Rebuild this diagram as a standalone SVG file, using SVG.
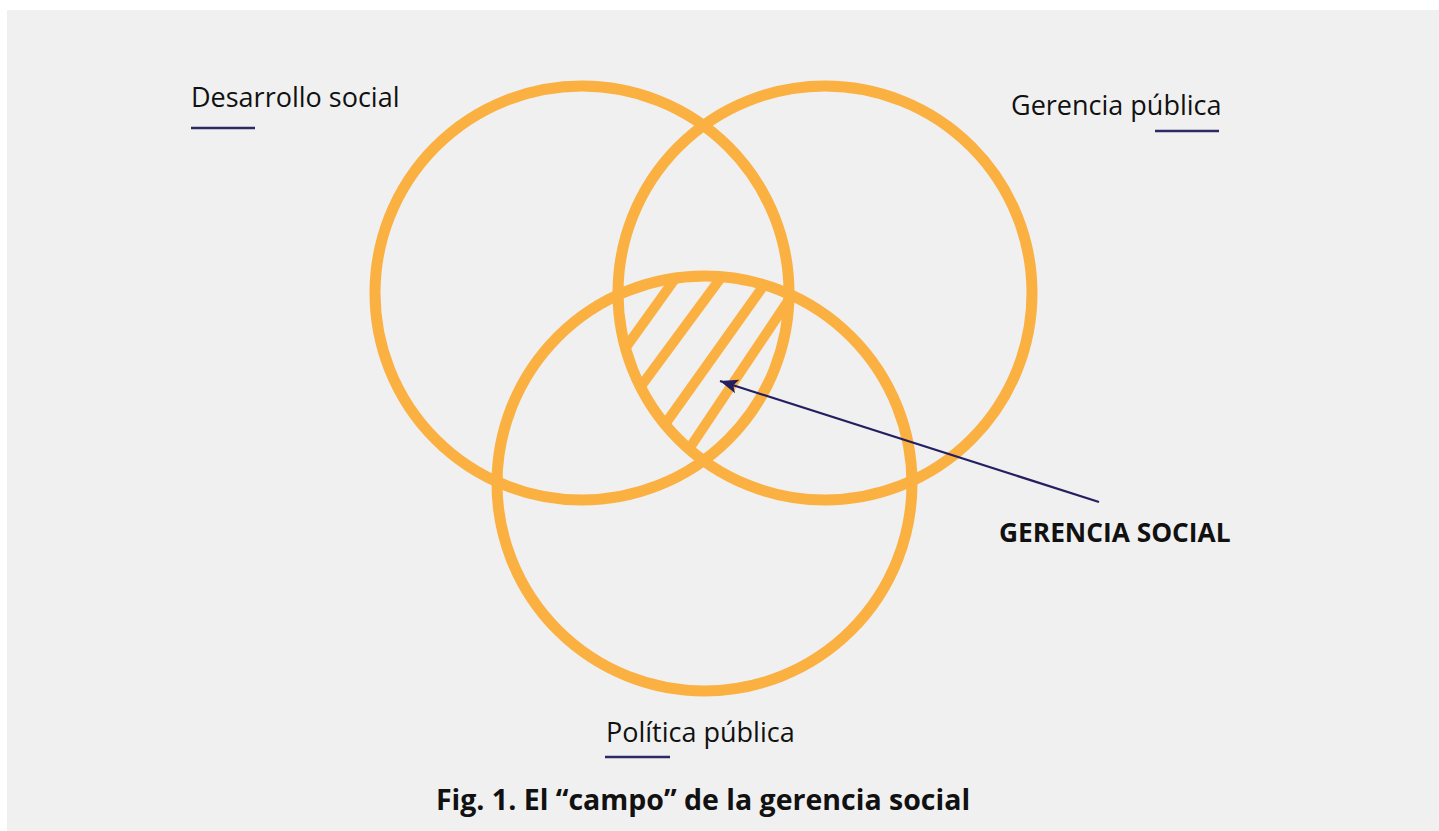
<svg xmlns="http://www.w3.org/2000/svg" width="1439" height="831" viewBox="0 0 1439 831">
<style>
.ring{fill:none;stroke:#fbb042;stroke-width:11}
.hatch{stroke:#fbb042;stroke-width:10;stroke-linecap:butt}
.lbl{font-family:"Open Sans","Noto Sans","Liberation Sans",sans-serif;font-size:27px;fill:#111}
.bold{font-family:"Open Sans","Noto Sans","Liberation Sans",sans-serif;font-weight:bold;fill:#111}
.ul{stroke:#2b2966;stroke-width:2.5}
.conn{stroke:#241f60;stroke-width:2.2;fill:none}
</style>
<defs>
<clipPath id="cA"><circle cx="582" cy="293" r="207"/></clipPath>
<clipPath id="cB"><circle cx="825" cy="293" r="207"/></clipPath>
<clipPath id="cC"><circle cx="704.5" cy="483.5" r="207.5"/></clipPath>
<marker id="arr" markerUnits="userSpaceOnUse" markerWidth="22" markerHeight="18" refX="18" refY="9" orient="auto" overflow="visible">
<path d="M18,9 L0,2 L4,9 L0,16 z" fill="#241f60"/>
</marker>
</defs>
<rect x="7" y="10" width="1432" height="821" fill="#f0f0f0"/>
<g id="hatching" clip-path="url(#cA)">
<g clip-path="url(#cB)">
<g clip-path="url(#cC)">
<line class="hatch" x1="689.5" y1="258.6" x2="611.5" y2="367.4"/>
<line class="hatch" x1="734.8" y1="258.9" x2="626.2" y2="406.2"/>
<line class="hatch" x1="779.4" y1="263.5" x2="650.6" y2="444.5"/>
<line class="hatch" x1="798.7" y1="285" x2="676.3" y2="468"/>
</g>
</g>
</g>
<g id="desarrollo-social">
<circle class="ring" cx="582" cy="293" r="207"/>
<text class="lbl" x="191" y="107">Desarrollo social</text>
<line class="ul" x1="191" y1="128" x2="255" y2="128"/>
</g>
<g id="gerencia-publica">
<circle class="ring" cx="825" cy="293" r="207"/>
<text class="lbl" x="1011" y="115">Gerencia pública</text>
<line class="ul" x1="1155" y1="131" x2="1219" y2="131"/>
</g>
<g id="politica-publica">
<circle class="ring" cx="704.5" cy="483.5" r="207.5"/>
<text class="lbl" x="606" y="742">Política pública</text>
<line class="ul" x1="605" y1="757" x2="670" y2="757"/>
</g>
<g id="gerencia-social">
<text class="bold" x="999" y="542" font-size="26.3">GERENCIA SOCIAL</text>
</g>
<g id="connectors">
<line class="conn" x1="1099" y1="502" x2="720" y2="381" marker-end="url(#arr)"/>
</g>
<g id="caption">
<text class="bold" x="703" y="810" font-size="28.5" text-anchor="middle">Fig. 1. El “campo” de la gerencia social</text>
</g>
</svg>
